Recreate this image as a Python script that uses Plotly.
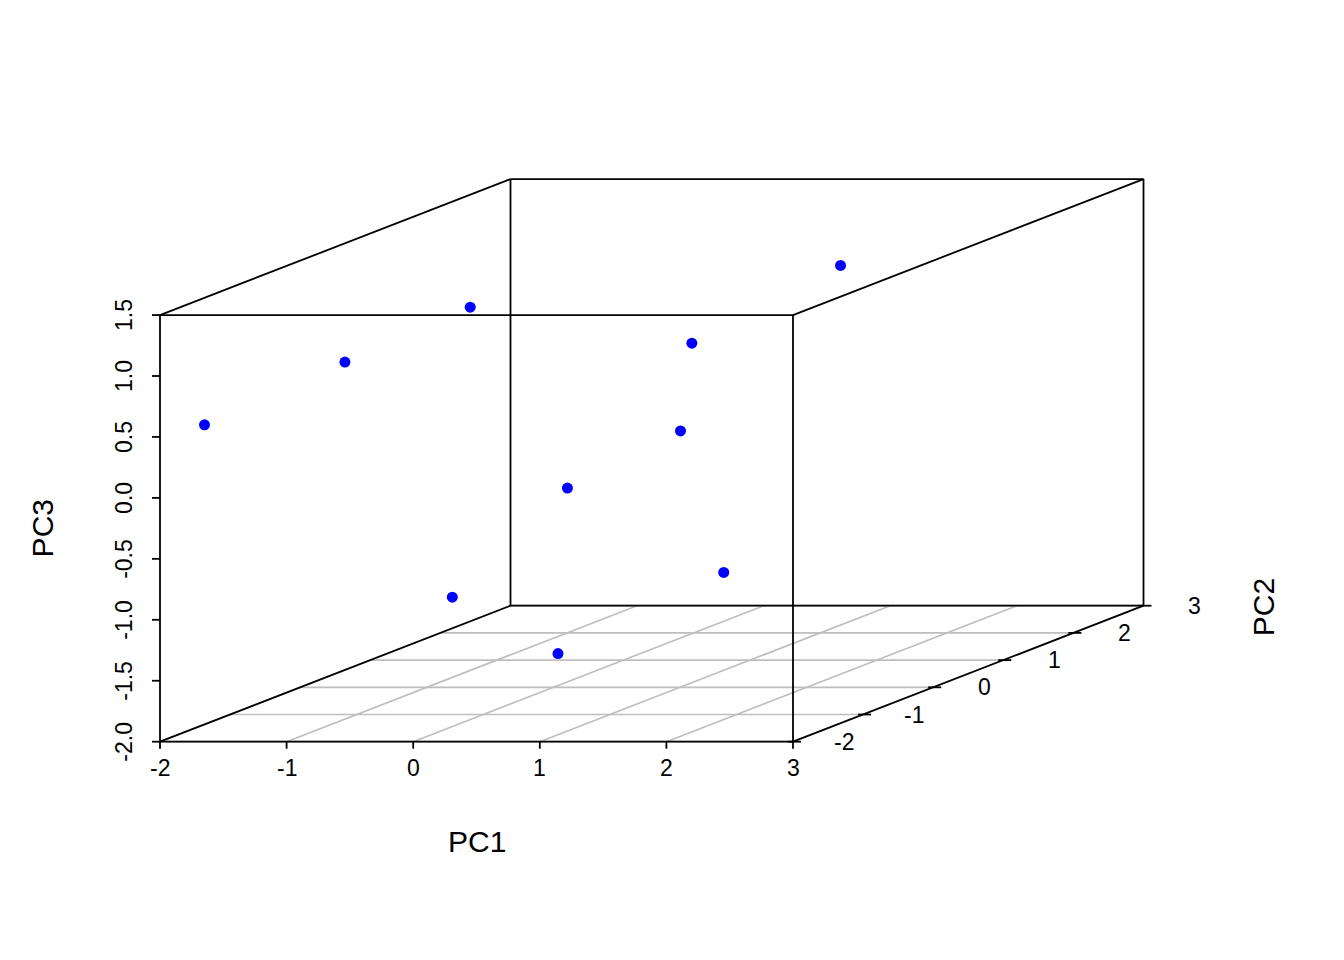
"""PCA 3D scatter (scatterplot3d style) drawn with plotly"""

import plotly.graph_objects as go

# scores
pc1 = [-1.87, -1.37, -1.10, 1.05, 0.54, 1.17, 0.00, 2.01, -1.02, 0.59]
pc2 = [-1.60, -0.50, 0.80, 2.20, 1.00, -0.30, 0.20, -1.20, 0.40, -1.00]
pc3 = [0.51, 0.78, 0.94, 0.97, 0.60, 0.17, -0.41, -0.79, -1.35, -1.50]

# axis ticks
x_ticks = [-2, -1, 0, 1, 2, 3]
y_ticks = [-2, -1, 0, 1, 2, 3]
z_ticks = [-2.0, -1.5, -1.0, -0.5, 0.0, 0.5, 1.0, 1.5]

# pixel scale of the picture (px per unit)
UX, UZ = 126.6, 121.9
# oblique shift per PC2 unit (px)
DX, DZ = 70.1, 27.2
KX, KZ = DX / UX, DZ / UZ

xmin, xmax = x_ticks[0], x_ticks[-1]
ymin, ymax = y_ticks[0], y_ticks[-1]
zmin, zmax = z_ticks[0], z_ticks[-1]


def proj(x, y, z):
    """3D -> 2D oblique projection (units of PC1 / PC3)"""
    return x + KX * (y - ymin), z + KZ * (y - ymin)


def segs(pairs):
    xs, ys = [], []
    for a, b in pairs:
        pa, pb = proj(*a), proj(*b)
        xs += [pa[0], pb[0], None]
        ys += [pa[1], pb[1], None]
    return xs, ys


fig = go.Figure()

# grid on the bottom plane
grid = [((x, ymin, zmin), (x, ymax, zmin)) for x in x_ticks]
grid += [((xmin, y, zmin), (xmax, y, zmin)) for y in y_ticks]
gx, gy = segs(grid)
fig.add_trace(go.Scatter(x=gx, y=gy, mode="lines",
                         line=dict(color="#bebebe", width=1.7), hoverinfo="skip"))

# box
corners = [(xmin, zmin), (xmax, zmin), (xmax, zmax), (xmin, zmax)]
box = []
for yy in (ymin, ymax):
    for i in range(4):
        a, b = corners[i], corners[(i + 1) % 4]
        box.append(((a[0], yy, a[1]), (b[0], yy, b[1])))
for cx, cz in corners:
    box.append(((cx, ymin, cz), (cx, ymax, cz)))
bx, by = segs(box)
fig.add_trace(go.Scatter(x=bx, y=by, mode="lines",
                         line=dict(color="black", width=1.8), hoverinfo="skip"))

# tick marks
tx, ty = [], []
for x in x_ticks:
    X, Z = proj(x, ymin, zmin)
    tx += [X, X, None]
    ty += [Z, Z - 7 / UZ, None]
for z in z_ticks:
    X, Z = proj(xmin, ymin, z)
    tx += [X, X - 8 / UX, None]
    ty += [Z, Z, None]
for y in y_ticks:
    X, Z = proj(xmax, y, zmin)
    tx += [X - 5 / UX, X + 8 / UX, None]
    ty += [Z, Z, None]
fig.add_trace(go.Scatter(x=tx, y=ty, mode="lines",
                         line=dict(color="black", width=1.8), hoverinfo="skip"))

# points
px_, pz_ = zip(*[proj(a, b, c) for a, b, c in zip(pc1, pc2, pc3)])
fig.add_trace(go.Scatter(x=list(px_), y=list(pz_), mode="markers",
                         marker=dict(color="blue", size=11), hoverinfo="skip"))

font = "Liberation Sans, Arial, sans-serif"
tick_font = dict(family=font, size=23, color="black")
lab_font = dict(family=font, size=30, color="black")

ann = []
for x in x_ticks:
    X, Z = proj(x, ymin, zmin)
    ann.append(dict(x=X, y=Z - 26 / UZ, text=str(x), font=tick_font))
for z in z_ticks:
    X, Z = proj(xmin, ymin, z)
    ann.append(dict(x=X - 36 / UX, y=Z, text=f"{z:.1f}", font=tick_font, textangle=-90))
for y in y_ticks:
    X, Z = proj(xmax, y, zmin)
    ann.append(dict(x=X + 51 / UX, y=Z, text=str(y), font=tick_font))

# axis titles
X, Z = proj((xmin + xmax) / 2, ymin, zmin)
ann.append(dict(x=X, y=Z - 100 / UZ, text="PC1", font=lab_font))
X, Z = proj(xmin, ymin, (zmin + zmax) / 2)
ann.append(dict(x=X - 118 / UX, y=Z, text="PC3", font=lab_font, textangle=-90))
X, Z = proj(xmax, ymax, zmin)
ann.append(dict(x=X + 120 / UX, y=Z - 2 / UZ, text="PC2", font=lab_font, textangle=-90))

for a in ann:
    a.update(xref="x", yref="y", showarrow=False, xanchor="center", yanchor="middle")

W, H = 1344, 960
OFF = 8  # page margin of the html body
x0 = xmin - (160 - OFF) / UX
y0 = zmin - (H - (741.7 - OFF)) / UZ

fig.update_layout(
    width=W, height=H,
    margin=dict(l=0, r=0, t=0, b=0),
    paper_bgcolor="white", plot_bgcolor="white",
    showlegend=False,
    annotations=ann,
    xaxis=dict(range=[x0, x0 + W / UX], visible=False, fixedrange=True),
    yaxis=dict(range=[y0, y0 + H / UZ], visible=False, fixedrange=True),
)

fig.write_html("out.html")
